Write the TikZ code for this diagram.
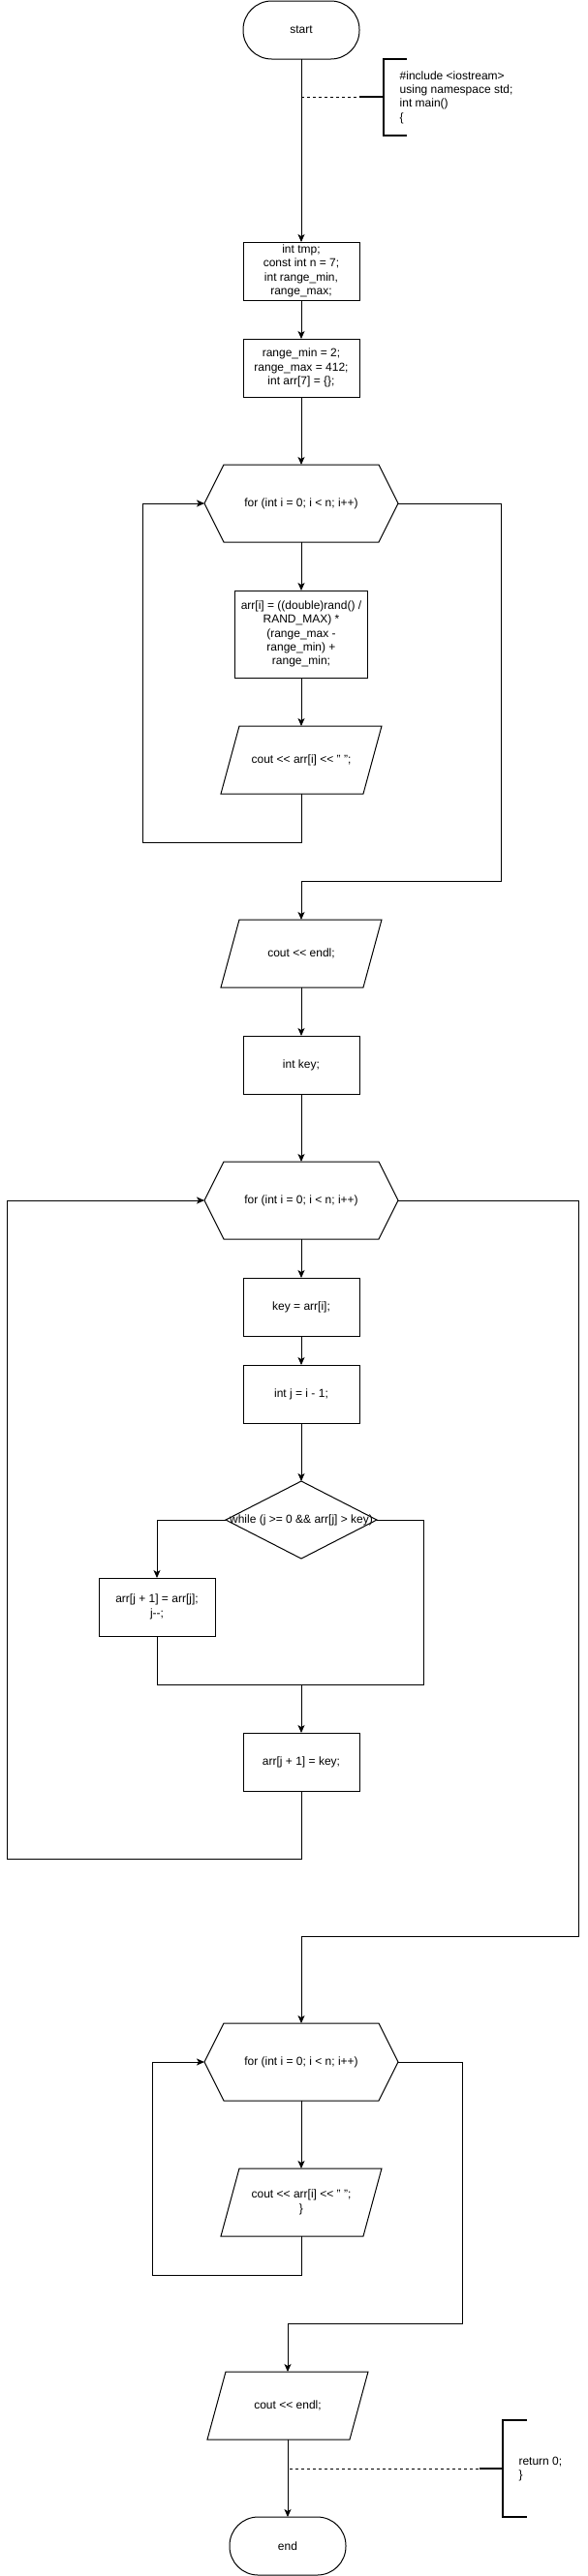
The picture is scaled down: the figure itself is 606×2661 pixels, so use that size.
\documentclass[tikz,border=0pt]{standalone}
\usepackage{fontspec}
\setmainfont{Liberation Sans}
\usetikzlibrary{arrows.meta}
\begin{document}
\begin{tikzpicture}[x=1pt,y=-1pt, line width=1pt,
 base/.style={font=\fontsize{12}{14.4}\selectfont, align=center, inner sep=2pt, outer sep=0pt},
 proc/.style={base, draw, minimum width=120pt, minimum height=60pt},
 term/.style={base, draw, rounded corners=29.5pt, minimum width=120pt, minimum height=60pt},
 hexa/.style={base, minimum width=200pt, minimum height=80pt},
 io/.style={base, minimum width=166pt, minimum height=70pt},
 arr/.style={-{Stealth[length=8pt,width=7pt,inset=2pt]}},
 ann/.style={dash pattern=on 3pt off 3pt},
 brk/.style={line width=2pt},
 note/.style={base, align=left, anchor=west, inner sep=0pt},
]
\useasboundingbox (0,0) rectangle (606,2661);

% nodes
\node[term] (start) at (311,31) {start};
\node[proc] (b1) at (311,280) {int tmp;\\const int n = 7;\\int range\_min,\\range\_max;};
\node[proc] (b2) at (311,380) {range\_min = 2;\\range\_max = 412;\\int arr[7] = \{\};};
\node[hexa] (h1) at (311,520) {for (int i = 0; i < n; i++)};
\node[proc, minimum width=137pt, minimum height=90pt] (b3) at (311,655) {arr[i] = ((double)rand() /\\RAND\_MAX) *\\(range\_max -\\range\_min) +\\range\_min;};
\node[io] (p1) at (311,785) {cout <{}< arr[i] <{}< " ";};
\node[io] (p2) at (311,985) {cout <{}< endl;};
\node[proc] (b4) at (311,1100) {int key;};
\node[hexa] (h2) at (311,1240) {for (int i = 0; i < n; i++)};
\node[proc] (b5) at (311,1350) {key = arr[i];};
\node[proc] (b6) at (311,1440) {int j = i - 1;};
\node[base, minimum width=156pt, minimum height=80pt] (d) at (311,1570) {while (j >{}= 0 \&\& arr[j] > key)};
\node[proc] (bl) at (162,1660) {arr[j + 1] = arr[j];\\j{-}{-};};
\node[proc] (bk) at (311,1820) {arr[j + 1] = key;};
\node[hexa] (h3) at (311,2130) {for (int i = 0; i < n; i++)};
\node[io] (p3) at (311,2275) {cout <{}< arr[i] <{}< " ";\\\}};
\node[io] (p4) at (297,2485) {cout <{}< endl;};
\node[term] (stop) at (297,2630) {end};

% shapes
\foreach \n in {h1,h2,h3}
  \draw ([xshift=20pt]\n.north west) -- ([xshift=-20pt]\n.north east) -- (\n.east)
        -- ([xshift=-20pt]\n.south east) -- ([xshift=20pt]\n.south west) -- (\n.west) -- cycle;
\foreach \n in {p1,p2,p3,p4}
  \draw ([xshift=19pt]\n.north west) -- (\n.north east) -- ([xshift=-19pt]\n.south east) -- (\n.south west) -- cycle;
\draw (d.north) -- (d.east) -- (d.south) -- (d.west) -- cycle;

% connectors
\draw[arr] (start.south) -- (b1.north);
\draw[arr] (b1.south) -- (b2.north);
\draw[arr] (b2.south) -- (h1.north);
\draw[arr] (h1.south) -- (b3.north);
\draw[arr] (b3.south) -- (p1.north);
\coordinate (l1) at (147,870);
\draw[arr] (p1.south) |- (l1) |- (h1.west);
\coordinate (r1) at (517,910);
\draw[arr] (h1.east) -| (r1) -| (p2.north);
\draw[arr] (p2.south) -- (b4.north);
\draw[arr] (b4.south) -- (h2.north);
\draw[arr] (h2.south) -- (b5.north);
\draw[arr] (b5.south) -- (b6.north);
\draw[arr] (b6.south) -- (d.north);
\draw[arr] (d.west) -| (bl.north);
\coordinate (jn) at (311,1740);
\coordinate (jr) at (437.5,1740);
\draw (d.east) -| (jr) -- (jn);
\draw[arr] (bl.south) |- (jn) -- (bk.north);
\coordinate (l2) at (7,1920);
\draw[arr] (bk.south) |- (l2) |- (h2.west);
\coordinate (r2) at (597.5,2000);
\draw[arr] (h2.east) -| (r2) -| (h3.north);
\draw[arr] (h3.south) -- (p3.north);
\coordinate (l3) at (157,2350);
\draw[arr] (p3.south) |- (l3) |- (h3.west);
\coordinate (r3) at (477,2400);
\draw[arr] (h3.east) -| (r3) -| (p4.north);
\draw[arr] (p4.south) -- (stop.north);

% annotation 1
\coordinate (a1) at (311,100);
\coordinate (a1t) at (371,100);
\coordinate (a1b) at (395.7,100);
\draw[ann] (a1) -- (a1t);
\draw[brk] (a1t) -- (a1b);
\draw[brk] (420.4,61) -- (395.7,61) -- (395.7,140) -- (420.4,140);
\node[note] (n1) at (412.7,100.5) {\#include <iostream>\\using namespace std;\\int main()\\\{};

% annotation 2
\coordinate (a2) at (299,2550);
\coordinate (a2t) at (494.6,2550);
\coordinate (a2b) at (518.5,2550);
\draw[ann] (a2) -- (a2t);
\draw[brk] (a2t) -- (a2b);
\draw[brk] (544,2500) -- (518.5,2500) -- (518.5,2600) -- (544,2600);
\node[note] (n2) at (535.5,2550.5) {return 0;\\\}};
\end{tikzpicture}
\end{document}
